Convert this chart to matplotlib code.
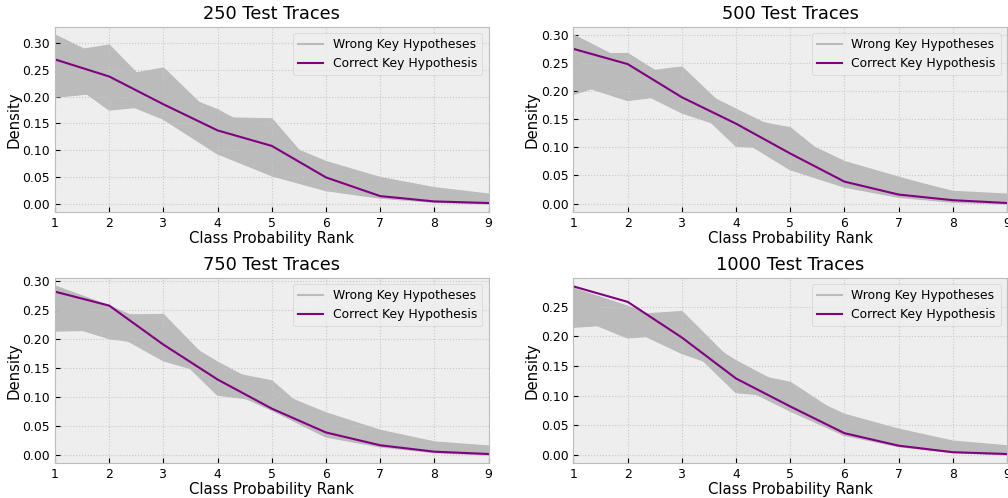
import numpy as np
import matplotlib
matplotlib.use('Agg')
import matplotlib.pyplot as plt

ranks = [1, 2, 3, 4, 5, 6, 7, 8, 9]
trace_counts = [250, 500, 750, 1000]

# correct key hypothesis (purple line), one per panel
correct_250 = [0.270, 0.238, 0.186, 0.137, 0.108, 0.049, 0.014, 0.004, 0.001]
correct_500 = [0.275, 0.248, 0.189, 0.142, 0.089, 0.039, 0.016, 0.006, 0.001]
correct_750 = [0.281, 0.257, 0.190, 0.130, 0.080, 0.039, 0.017, 0.006, 0.002]
correct_1000 = [0.284, 0.258, 0.198, 0.129, 0.082, 0.037, 0.016, 0.005, 0.002]

# wrong key hypotheses: first row is a line in the middle
# of the band, the others are the lines that make its edges and outliers
wrong_250 = [
    [0.255, 0.225, 0.200, 0.135, 0.100, 0.050, 0.025, 0.012, 0.006],
    [0.315, 0.265, 0.215, 0.150, 0.120, 0.060, 0.030, 0.015, 0.008],
    [0.280, 0.296, 0.192, 0.150, 0.110, 0.055, 0.030, 0.015, 0.008],
    [0.250, 0.235, 0.253, 0.155, 0.125, 0.070, 0.040, 0.020, 0.010],
    [0.240, 0.220, 0.215, 0.175, 0.120, 0.078, 0.048, 0.029, 0.017],
    [0.230, 0.210, 0.190, 0.160, 0.158, 0.040, 0.030, 0.020, 0.012],
    [0.235, 0.215, 0.185, 0.150, 0.147, 0.045, 0.035, 0.020, 0.010],
    [0.240, 0.220, 0.200, 0.150, 0.144, 0.050, 0.030, 0.018, 0.010],
    [0.200, 0.210, 0.190, 0.120, 0.080, 0.040, 0.020, 0.008, 0.003],
    [0.250, 0.176, 0.186, 0.130, 0.090, 0.045, 0.020, 0.008, 0.003],
    [0.235, 0.200, 0.159, 0.094, 0.053, 0.025, 0.011, 0.003, 0.000],
]
wrong_500 = [
    [0.250, 0.230, 0.200, 0.135, 0.095, 0.050, 0.025, 0.010, 0.005],
    [0.299, 0.250, 0.200, 0.150, 0.100, 0.050, 0.025, 0.012, 0.006],
    [0.265, 0.266, 0.206, 0.150, 0.110, 0.055, 0.030, 0.015, 0.008],
    [0.240, 0.230, 0.242, 0.150, 0.120, 0.060, 0.032, 0.015, 0.008],
    [0.240, 0.225, 0.215, 0.167, 0.120, 0.065, 0.040, 0.018, 0.010],
    [0.230, 0.220, 0.200, 0.152, 0.134, 0.056, 0.044, 0.021, 0.016],
    [0.230, 0.220, 0.200, 0.150, 0.120, 0.074, 0.046, 0.020, 0.014],
    [0.195, 0.225, 0.200, 0.130, 0.090, 0.045, 0.020, 0.008, 0.003],
    [0.215, 0.184, 0.196, 0.140, 0.095, 0.045, 0.020, 0.008, 0.003],
    [0.230, 0.210, 0.162, 0.130, 0.090, 0.045, 0.020, 0.008, 0.003],
    [0.230, 0.210, 0.195, 0.103, 0.097, 0.045, 0.022, 0.008, 0.003],
    [0.240, 0.220, 0.190, 0.120, 0.061, 0.030, 0.012, 0.003, 0.000],
]
wrong_750 = [
    [0.250, 0.230, 0.200, 0.135, 0.095, 0.050, 0.025, 0.011, 0.006],
    [0.290, 0.256, 0.215, 0.150, 0.100, 0.050, 0.025, 0.012, 0.006],
    [0.255, 0.240, 0.241, 0.145, 0.100, 0.050, 0.025, 0.012, 0.006],
    [0.250, 0.235, 0.215, 0.159, 0.110, 0.060, 0.030, 0.015, 0.008],
    [0.245, 0.230, 0.200, 0.145, 0.127, 0.046, 0.035, 0.018, 0.010],
    [0.245, 0.230, 0.200, 0.140, 0.110, 0.072, 0.042, 0.022, 0.015],
    [0.214, 0.216, 0.205, 0.140, 0.095, 0.045, 0.020, 0.008, 0.003],
    [0.230, 0.201, 0.189, 0.135, 0.095, 0.045, 0.020, 0.008, 0.003],
    [0.240, 0.215, 0.163, 0.136, 0.095, 0.045, 0.020, 0.008, 0.003],
    [0.240, 0.220, 0.195, 0.104, 0.092, 0.050, 0.022, 0.008, 0.003],
    [0.245, 0.225, 0.185, 0.120, 0.078, 0.032, 0.015, 0.005, 0.001],
]
wrong_1000 = [
    [0.250, 0.230, 0.210, 0.135, 0.100, 0.050, 0.025, 0.011, 0.006],
    [0.280, 0.250, 0.215, 0.150, 0.100, 0.050, 0.025, 0.012, 0.006],
    [0.255, 0.235, 0.241, 0.150, 0.105, 0.050, 0.025, 0.012, 0.006],
    [0.250, 0.235, 0.215, 0.158, 0.110, 0.060, 0.030, 0.015, 0.008],
    [0.245, 0.230, 0.205, 0.140, 0.122, 0.062, 0.035, 0.018, 0.010],
    [0.245, 0.230, 0.205, 0.140, 0.110, 0.068, 0.043, 0.023, 0.015],
    [0.216, 0.222, 0.210, 0.140, 0.095, 0.045, 0.020, 0.008, 0.003],
    [0.235, 0.198, 0.205, 0.140, 0.095, 0.045, 0.020, 0.008, 0.003],
    [0.240, 0.215, 0.172, 0.140, 0.095, 0.045, 0.020, 0.008, 0.003],
    [0.240, 0.220, 0.195, 0.106, 0.098, 0.050, 0.022, 0.008, 0.003],
    [0.245, 0.225, 0.190, 0.120, 0.075, 0.034, 0.015, 0.005, 0.001],
]

panels = [
    (trace_counts[0], wrong_250, correct_250),
    (trace_counts[1], wrong_500, correct_500),
    (trace_counts[2], wrong_750, correct_750),
    (trace_counts[3], wrong_1000, correct_1000),
]

plt.style.use('bmh')
plt.rcParams['font.size'] = 8.9
plt.rcParams['grid.color'] = '#c8c8c8'
plt.rcParams['grid.linestyle'] = ':'
plt.rcParams['grid.linewidth'] = 0.8

fig, axes = plt.subplots(2, 2, figsize=(10.08, 4.98), dpi=100)
fig.subplots_adjust(left=0.0546, right=0.999, bottom=0.0703, top=0.9458,
                    wspace=0.196, hspace=0.357)

for ax, (n, wrong, correct) in zip(axes.flat, panels):
    core = wrong[0]
    # the many wrong-key lines merge into a solid band: fill between each line and the core one
    for line in wrong[1:]:
        ax.fill_between(ranks, core, line, color='#bbbbbb', lw=0)
    for i, line in enumerate(wrong):
        ax.plot(ranks, line, color='#bbbbbb', lw=1.5,
                label='Wrong Key Hypotheses' if i == 0 else None)
    ax.plot(ranks, correct, color='purple', lw=1.5, label='Correct Key Hypothesis')

    ax.set_title(f'{n} Test Traces')
    ax.set_xlabel('Class Probability Rank', labelpad=1)
    ax.set_ylabel('Density', labelpad=1)
    ax.set_xlim(1, 9)
    ax.set_xticks(ranks)
    ax.legend(loc='upper right')

fig.savefig('out.png', dpi=100)
